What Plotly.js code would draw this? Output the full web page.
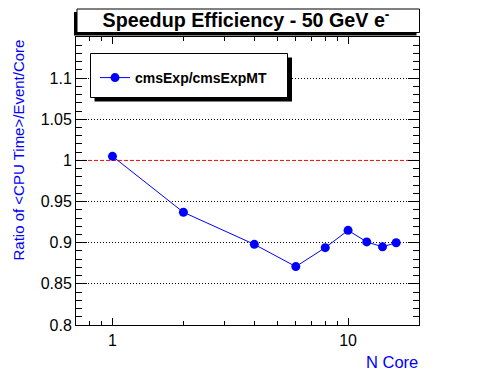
<!DOCTYPE html>
<html>
<head>
<meta charset="utf-8">
<script src="https://cdn.plot.ly/plotly-3.0.1.min.js"></script>
<style>html,body{margin:0;padding:0;background:#fff;}#chart{width:496px;height:372px;}</style>
</head>
<body>
<div id="chart"></div>
<script>
// ---- data ----
const nCore = [1, 2, 4, 6, 8, 10, 12, 14, 16];
const ratio = [1.005, 0.937, 0.898, 0.871, 0.894, 0.915, 0.901, 0.895, 0.900];
const seriesName = 'cmsExp/cmsExpMT';
const chartTitle = 'Speedup Efficiency - 50 GeV e<sup>-</sup>';
const xTitle = 'N Core';
const yTitle = 'Ratio of &lt;CPU Time&gt;/Event/Core';
const yTickVals = [0.8, 0.85, 0.9, 0.95, 1, 1.05, 1.1];
const yTickText = ['0.8', '0.85', '0.9', '0.95', '1', '1.05', '1.1'];
const yGridVals = [0.85, 0.9, 0.95, 1.05, 1.1];
const xTickVals = [1, 10];
const xTickText = ['1', '10'];
const xMinorVals = [0.8, 0.9, 2, 3, 4, 5, 6, 7, 8, 9];
const referenceLevel = 1;

// ---- layout helpers ----
const W = 496, H = 372;
const M = {l: 76, r: 77, t: 37, b: 47};
const PW = W - M.l - M.r, PH = H - M.t - M.b;
const px = X => (X - M.l) / PW;
const py = Y => (H - M.b - Y) / PH;
const FONT = 'Liberation Sans, Arial, Helvetica, sans-serif';
const BLUE = '#0000ff';

function box(x0, y0, x1, y1, fill, lw) {
  return {type: 'rect', xref: 'paper', yref: 'paper', layer: 'above',
    x0: px(x0), x1: px(x1), y0: py(y1), y1: py(y0),
    fillcolor: fill, line: {color: 'black', width: lw}};
}

const gridHelper = {
  x: [nCore[0]], y: [ratio[0]], xaxis: 'x', yaxis: 'y2', type: 'scatter', mode: 'markers',
  marker: {opacity: 0, size: 1}, showlegend: false, hoverinfo: 'skip'
};

const trace = {
  x: nCore, y: ratio, name: seriesName, type: 'scatter', mode: 'lines+markers',
  line: {color: BLUE, width: 1},
  marker: {color: BLUE, size: 9, symbol: 'circle'},
  showlegend: true
};

const layout = {
  width: W, height: H,
  margin: M,
  paper_bgcolor: 'white', plot_bgcolor: 'white',
  font: {family: FONT, size: 16, color: 'black'},
  showlegend: true,
  title: {
    text: chartTitle, xref: 'paper', x: px(246), xanchor: 'center',
    yref: 'container', y: 1 - 20.5 / H, yanchor: 'middle',
    font: {family: FONT, size: 19.7, color: 'black', weight: 'bold'}
  },
  xaxis: {
    type: 'log', range: [Math.log10(0.7), Math.log10(20)],
    tickmode: 'array', tickvals: xTickVals, ticktext: xTickText,
    ticks: 'inside', ticklen: 7, tickcolor: 'black', tickwidth: 1,
    minor: {ticks: 'inside', ticklen: 4, tickcolor: 'black', tickvals: xMinorVals, showgrid: false},
    showline: true, linecolor: 'black', linewidth: 1, mirror: 'ticks',
    showgrid: false, zeroline: false,
    tickfont: {family: FONT, size: 16, color: 'black'},
    ticklabelstandoff: 1
  },
  yaxis: {
    range: [0.8, 1.15],
    tickmode: 'array', tickvals: yTickVals, ticktext: yTickText,
    ticks: 'inside', ticklen: 11, tickcolor: 'black', tickwidth: 1,
    minor: {ticks: 'inside', ticklen: 6, tickcolor: 'black', tick0: 0.8, dtick: 0.01, showgrid: false},
    showline: true, linecolor: 'black', linewidth: 1, mirror: 'ticks',
    showgrid: false, zeroline: false,
    tickfont: {family: FONT, size: 16, color: 'black'}
  },
  yaxis2: {
    overlaying: 'y', anchor: 'x', side: 'left',
    range: [0.8, 1.15],
    tickmode: 'array', tickvals: yGridVals,
    showticklabels: false, ticks: '',
    showgrid: true, gridcolor: 'black', gridwidth: 1, griddash: '1px,2px',
    zeroline: false, showline: false
  },
  legend: {
    xref: 'paper', yref: 'paper', x: px(95), y: py(62), xanchor: 'left', yanchor: 'top',
    bgcolor: 'rgba(0,0,0,0)', borderwidth: 0,
    font: {family: FONT, size: 14, color: 'black', weight: 'bold'}
  },
  shapes: [
    {type: 'line', xref: 'paper', yref: 'y', x0: 0, x1: 1, y0: referenceLevel, y1: referenceLevel,
     layer: 'below', line: {color: 'red', width: 1, dash: '4px,2px'}},
    box(74, 12, 416.5, 35.5, 'black', 0),
    box(77, 9, 419.5, 32.5, 'white', 1),
    box(94.5, 57.5, 292, 101.5, 'black', 0),
    box(90.5, 53.5, 287.5, 97.5, 'white', 1)
  ],
  annotations: [
    {text: yTitle, xref: 'paper', yref: 'paper', x: px(18), y: py(38),
     xanchor: 'center', yanchor: 'top', textangle: -90, showarrow: false,
     font: {family: FONT, size: 15, color: BLUE}},
    {text: xTitle, xref: 'paper', yref: 'paper', x: px(419.5), y: py(361.5),
     xanchor: 'right', yanchor: 'middle', showarrow: false,
     font: {family: FONT, size: 16.5, color: BLUE}}
  ]
};

Plotly.newPlot('chart', [gridHelper, trace], layout, {displayModeBar: false, staticPlot: true});
</script>
</body>
</html>
